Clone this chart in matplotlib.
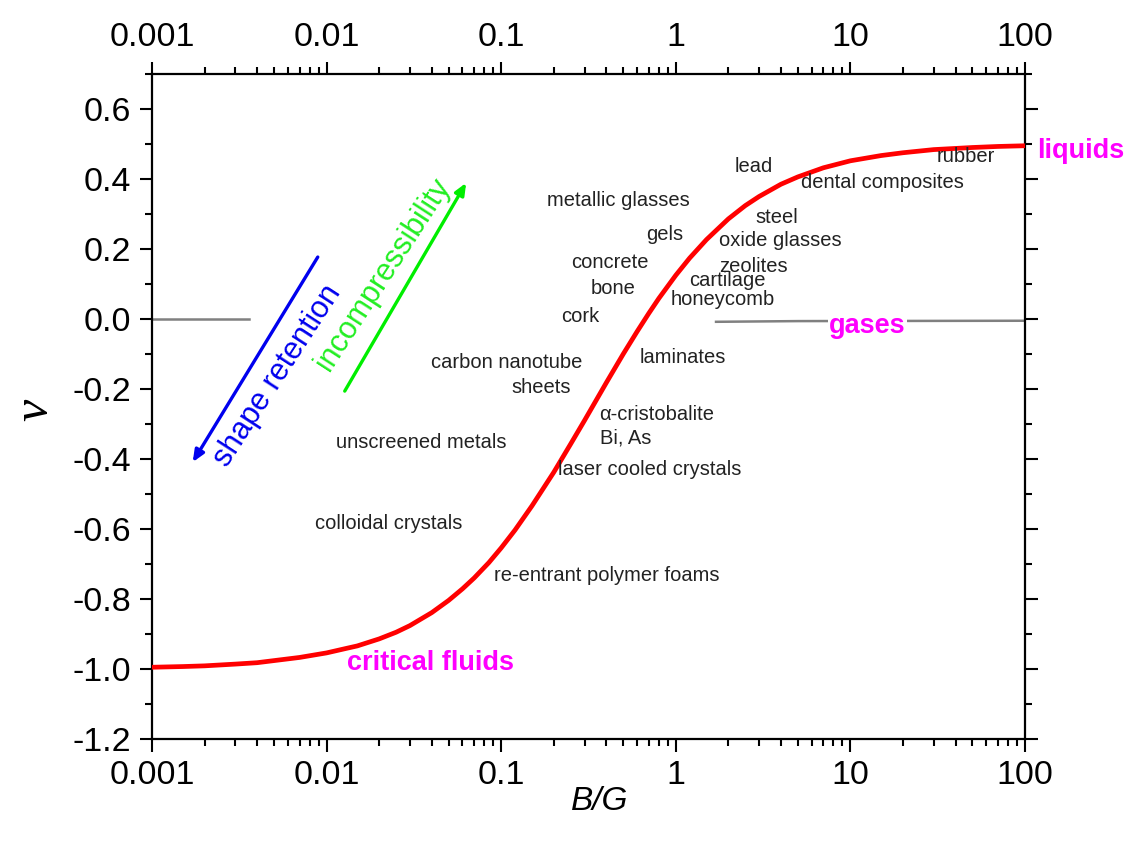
import matplotlib
matplotlib.use("Agg")
import matplotlib.pyplot as plt
from matplotlib.ticker import LogLocator, FixedLocator, MultipleLocator, NullFormatter

plt.rcParams['font.family'] = ['Liberation Sans', 'DejaVu Sans']

# ---- data ----
bg_ratio = [0.001, 0.0015, 0.002, 0.003, 0.004, 0.005, 0.007, 0.01, 0.013,
            0.015, 0.02, 0.025, 0.03, 0.04, 0.05, 0.06, 0.07, 0.085, 0.1,
            0.12, 0.15, 0.2, 0.25, 0.3, 0.4, 0.5, 0.6, 0.7, 0.8, 1.0, 1.2,
            1.5, 2.0, 2.5, 3.0, 4.0, 5.0, 7.0, 10.0, 15.0, 20.0, 30.0,
            50.0, 70.0, 100.0]
poisson = [-0.995, -0.993, -0.991, -0.986, -0.982, -0.976, -0.967, -0.954,
           -0.941, -0.934, -0.914, -0.895, -0.876, -0.839, -0.804, -0.771,
           -0.740, -0.696, -0.654, -0.603, -0.534, -0.438, -0.357, -0.290,
           -0.182, -0.100, -0.036, 0.016, 0.059, 0.125, 0.174, 0.227, 0.286,
           0.324, 0.350, 0.385, 0.406, 0.432, 0.452, 0.467, 0.475, 0.484,
           0.490, 0.493, 0.495]

gas_left_x = [0.001, 0.0036]
gas_left_y = [0.0, 0.0]
gas_right_x = [1.7, 5.0, 100.0]
gas_right_y = [-0.008, -0.006, -0.005]

materials = ["lead", "dental composites", "rubber", "metallic glasses", "gels",
             "steel", "oxide glasses", "concrete", "zeolites", "cartilage",
             "bone", "honeycomb", "cork", "carbon nanotube", "sheets",
             "laminates", "\u03b1-cristobalite", "Bi, As", "unscreened metals",
             "laser cooled crystals", "colloidal crystals",
             "re-entrant polymer foams"]
mat_x = [2.79, 15.2, 46.0, 0.467, 0.865, 3.78, 3.98, 0.42, 2.79, 1.98,
         0.436, 1.86, 0.283, 0.108, 0.169, 1.1, 0.778, 0.518, 0.0349,
         0.71, 0.0226, 0.403]
mat_y = [0.437, 0.391, 0.463, 0.340, 0.240, 0.291, 0.223, 0.160, 0.149,
         0.109, 0.086, 0.057, 0.006, -0.123, -0.197, -0.109, -0.274,
         -0.340, -0.354, -0.429, -0.583, -0.734]

states = ["liquids", "gases", "critical fluids"]
state_x = [118.0, 12.5, 0.0393]
state_y = [0.48, -0.02, -0.983]

xticks = [0.001, 0.01, 0.1, 1, 10, 100]
xticklabels = ["0.001", "0.01", "0.1", "1", "10", "100"]
yticks = [-1.2, -1.0, -0.8, -0.6, -0.4, -0.2, 0.0, 0.2, 0.4, 0.6]
yticklabels = ["-1.2", "-1.0", "-0.8", "-0.6", "-0.4", "-0.2", "0.0", "0.2", "0.4", "0.6"]

# arrows (start, end) in data coords
blue_arrow = [(0.0089, 0.177), (0.00171, -0.409)]
green_arrow = [(0.0127, -0.206), (0.063, 0.389)]

# ---- figure ----
fig = plt.figure(figsize=(11.30, 8.41), dpi=100)
ax = fig.add_axes([152/1130, 1 - 739/841, (1025 - 152)/1130, (739 - 74)/841])

ax.plot(gas_left_x, gas_left_y, color='#808080', lw=1.8, zorder=2)
ax.plot(gas_right_x, gas_right_y, color='#808080', lw=1.8, zorder=2)
ax.plot(bg_ratio, poisson, color='#ff0000', lw=3.4, zorder=3,
        solid_capstyle='butt', solid_joinstyle='round')

ax.set_xscale('log')
ax.set_xlim(0.001, 100)
ax.set_ylim(-1.2, 0.7)

ax.xaxis.set_major_locator(FixedLocator(xticks))
ax.set_xticklabels(xticklabels)
ax.xaxis.set_minor_locator(LogLocator(base=10, subs=range(2, 10), numticks=20))
ax.xaxis.set_minor_formatter(NullFormatter())
ax.yaxis.set_major_locator(FixedLocator(yticks))
ax.set_yticklabels(yticklabels)
ax.yaxis.set_minor_locator(MultipleLocator(0.1))

ax.tick_params(which='both', direction='out', top=True, right=True,
               labeltop=True, labelright=False, width=1.5, color='black')
ax.tick_params(which='major', length=9, labelsize=24.5, pad=6)
ax.tick_params(which='minor', length=5)
for s in ax.spines.values():
    s.set_linewidth(1.6)

for t, x, y in zip(materials, mat_x, mat_y):
    ax.text(x, y, t, ha='center', va='center', fontsize=14.5, color='#222222',
            zorder=4)

for t, x, y in zip(states, state_x, state_y):
    kw = {}
    if t == "gases":
        kw['bbox'] = dict(facecolor='white', edgecolor='none', pad=1)
    ax.text(x, y, t, ha='left' if t == "liquids" else 'center', va='center',
            fontsize=19.5, fontweight='bold', color='#ff00ff', zorder=5,
            clip_on=False, **kw)

ax.annotate('', xy=blue_arrow[1], xytext=blue_arrow[0],
            arrowprops=dict(arrowstyle='-|>,head_length=0.7,head_width=0.3',
                            color='#0000ee', lw=2.4, shrinkA=0, shrinkB=0))
ax.annotate('', xy=green_arrow[1], xytext=green_arrow[0],
            arrowprops=dict(arrowstyle='-|>,head_length=0.7,head_width=0.3',
                            color='#00ee00', lw=2.4, shrinkA=0, shrinkB=0))
ax.text(0.00525, -0.163, "shape retention", rotation=57, rotation_mode='anchor',
        ha='center', va='center', fontsize=22, color='#0000ee')
ax.text(0.0212, 0.126, "incompressibility", rotation=57, rotation_mode='anchor',
        ha='center', va='center', fontsize=22, color='#22ee22')

fig.text(600/1130, 1 - 802/841, "B/G", ha='center', va='center', fontsize=24,
         style='italic')
fig.text(35/1130, 1 - 410/841, "\u03bd", ha='center', va='center', fontsize=36,
         style='italic', rotation=90, family=['Liberation Serif', 'DejaVu Serif'])

fig.savefig("out.png", dpi=100, facecolor='white')
